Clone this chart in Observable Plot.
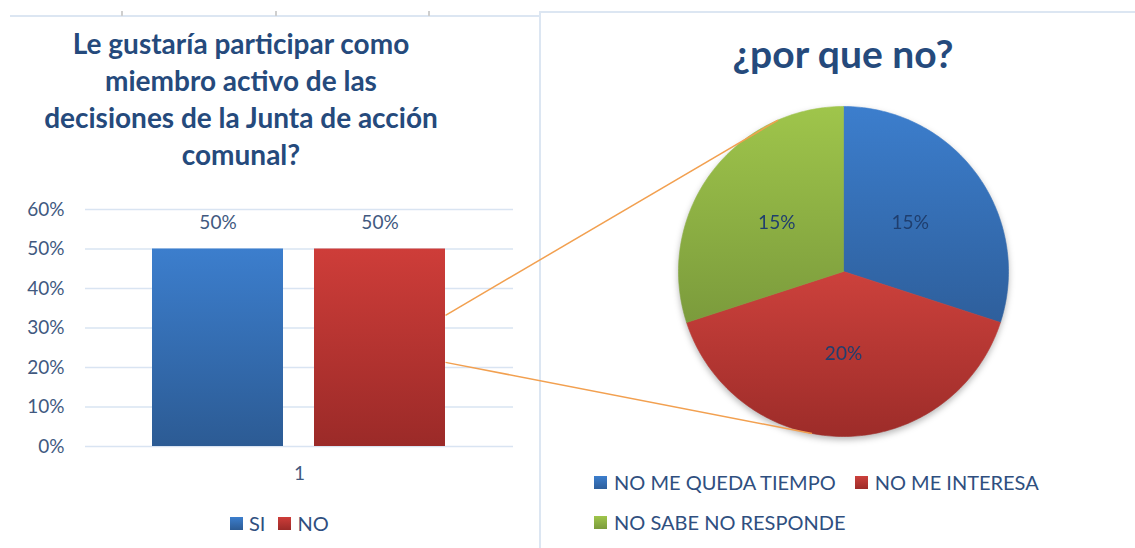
<!DOCTYPE html>
<html><head><meta charset="utf-8">
<script src="https://cdn.jsdelivr.net/npm/d3@7"></script>
<script src="https://cdn.jsdelivr.net/npm/@observablehq/plot@0.6"></script>
<style>
html,body{margin:0;padding:0;background:#fff;}
#root{position:relative;width:1135px;height:548px;overflow:hidden;font-family:Lato,sans-serif;background:#fff;}
.abs{position:absolute;}
.leg{display:flex;flex-wrap:wrap;align-items:center;font-size:20px;line-height:20px;color:#2f4f7f;}
.leg .item{display:flex;align-items:center;}
.leg .sw{width:13px;height:13px;display:inline-block;}
</style></head><body><div id="root"></div>
<script>
// ---------- data ----------
const barGroup = ["1"];
const barSeries = ["SI", "NO"];
const barValues = [0.5, 0.5];
const yTicks = [0, 0.1, 0.2, 0.3, 0.4, 0.5, 0.6];
const barTitle = ["Le gustaría participar como", "miembro activo de las", "decisiones de la Junta de acción", "comunal?"];
const pieTitle = "¿por que no?";
const pieLabels = ["NO ME QUEDA TIEMPO", "NO ME INTERESA", "NO SABE NO RESPONDE"];
const pieValues = [0.15, 0.20, 0.15];
const connectorBarValues = [0.332, 0.213];
const connectorPieAngles = [336.6, 191];

// ---------- styling ----------
const barGrad = [["gSI", "#3c7ecd", "#2c5b94"], ["gNO", "#ce3d39", "#9b2a28"]];
const pieGrad = [["pBlue", "#3c7ecd", "#2e5f9c"], ["pRed", "#cc413c", "#9d2c29"], ["pGreen", "#9fc54b", "#7b9b3c"]];
const textColor = "#41597f";
const BAR = {left: 0, top: 190, width: 540, height: 300};
const PIE = {left: 668, top: 96, size: 350};

const root = document.getElementById("root");
const pct = d3.format(".0%");

function gradientDefs(list) {
  return () => {
    const ns = "http://www.w3.org/2000/svg";
    const defs = document.createElementNS(ns, "defs");
    for (const [id, top, bottom] of list) {
      const lg = document.createElementNS(ns, "linearGradient");
      lg.setAttribute("id", id);
      lg.setAttribute("x1", "0"); lg.setAttribute("y1", "0");
      lg.setAttribute("x2", "0"); lg.setAttribute("y2", "1");
      for (const [off, col] of [[0, top], [1, bottom]]) {
        const s = document.createElementNS(ns, "stop");
        s.setAttribute("offset", off);
        s.setAttribute("stop-color", col);
        lg.appendChild(s);
      }
      defs.appendChild(lg);
    }
    return defs;
  };
}
function place(el, left, top) {
  el.style.position = "absolute";
  el.style.left = left + "px";
  el.style.top = top + "px";
  root.appendChild(el);
  return el;
}
function div(cls, css, html) {
  const d = document.createElement("div");
  if (cls) d.className = cls;
  Object.assign(d.style, css || {});
  if (html != null) d.innerHTML = html;
  root.appendChild(d);
  return d;
}

// ---------- decorative frame lines ----------
div("abs", {left: "10px", top: "15px", width: "530px", height: "2px", background: "#dce6f2"});
for (const x of [121, 275, 428]) div("abs", {left: x + "px", top: "11px", width: "2px", height: "5px", background: "#cfcfcf"});
div("abs", {left: "539px", top: "11px", width: "600px", height: "540px", borderLeft: "2px solid #dce6f2", borderTop: "2px solid #dce6f2", boxSizing: "border-box"});

// ---------- bar chart ----------
const barData = barSeries.map((s, i) => ({group: barGroup[0], series: s, value: barValues[i]}));
const barChart = Plot.plot({
  width: BAR.width, height: BAR.height,
  marginLeft: 85, marginRight: 27, marginTop: 19, marginBottom: 44,
  style: {fontFamily: "Lato, sans-serif", fontSize: "19px", color: textColor, background: "transparent", overflow: "visible"},
  x: {domain: barSeries, paddingInner: 0.19, paddingOuter: 0.411, axis: null},
  y: {domain: [0, 0.6], axis: null},
  color: {domain: barSeries, range: barGrad.map(g => `url(#${g[0]})`)},
  marks: [
    gradientDefs(barGrad),
    Plot.gridY(yTicks, {stroke: "#d9e4f2", strokeOpacity: 1, strokeWidth: 1.3}),
    Plot.axisY(yTicks, {tickFormat: pct, tickSize: 0, tickPadding: 21, fill: textColor, label: null}),
    Plot.barY(barData, {x: "series", y: "value", fill: "series"}),
    Plot.text(barData, {x: "series", y: "value", text: d => pct(d.value), dy: -26, fill: textColor}),
    Plot.text(barGroup, {text: d => d, frameAnchor: "bottom", lineAnchor: "middle", dy: 27, fill: textColor})
  ]
});
place(barChart, BAR.left, BAR.top);

// bar title
div("abs", {left: "6px", top: "25px", width: "470px", textAlign: "center", fontSize: "28px", fontWeight: "700", lineHeight: "37px", color: "#254a7c", whiteSpace: "nowrap"},
  barTitle.join("<br>"));

// bar legend
const barLeg = div("leg abs", {left: "230px", top: "513px"});
barSeries.forEach((s, i) => {
  const it = document.createElement("div");
  it.className = "item";
  if (i > 0) it.style.marginLeft = "13px";
  it.innerHTML = `<span class="sw" style="background:linear-gradient(${barGrad[i][1]},${barGrad[i][2]})"></span><span style="margin-left:6px">${s}</span>`;
  barLeg.appendChild(it);
});

// ---------- pie chart ----------
const arcs = d3.pie().sort(null).value(d => d)(pieValues);
const wedgePts = [];
arcs.forEach((a, i) => {
  const name = pieLabels[i];
  wedgePts.push({slice: name, x: 0, y: 0});
  const n = Math.max(2, Math.ceil((a.endAngle - a.startAngle) / (Math.PI / 180)));
  for (let k = 0; k <= n; k++) {
    const t = a.startAngle + (a.endAngle - a.startAngle) * k / n;
    wedgePts.push({slice: name, x: Math.sin(t), y: Math.cos(t)});
  }
  wedgePts.push({slice: name, x: 0, y: 0});
});
const pieLabelPts = arcs.map((a, i) => {
  const m = (a.startAngle + a.endAngle) / 2;
  return {x: 0.5 * Math.sin(m), y: 0.5 * Math.cos(m), text: pct(pieValues[i])};
});
const pieChart = Plot.plot({
  width: PIE.size, height: PIE.size, margin: 10,
  style: {fontFamily: "Lato, sans-serif", fontSize: "19px", background: "transparent", overflow: "visible"},
  x: {domain: [-1, 1], axis: null},
  y: {domain: [-1, 1], axis: null},
  color: {domain: pieLabels, range: pieGrad.map(g => `url(#${g[0]})`)},
  marks: [
    gradientDefs(pieGrad),
    Plot.line(wedgePts, {x: "x", y: "y", z: "slice", fill: "slice", stroke: "slice", strokeWidth: 0.6}),
    Plot.text(pieLabelPts, {x: "x", y: "y", text: "text", fill: "#1f3e6e"})
  ]
});
pieChart.style.filter = "drop-shadow(0px 3px 3px rgba(0,0,0,0.28))";
place(pieChart, PIE.left, PIE.top);

// pie title
div("abs", {left: "643px", top: "33px", width: "400px", textAlign: "center", fontSize: "39px", fontWeight: "700", lineHeight: "40px", color: "#254a7c"}, pieTitle);

// pie legend
const pieLeg = div("leg abs", {left: "594px", top: "472px", width: "445px", rowGap: "20px"});
pieLabels.forEach((s, i) => {
  const it = document.createElement("div");
  it.className = "item";
  if (i === 1) it.style.marginLeft = "19px";
  it.innerHTML = `<span class="sw" style="background:linear-gradient(${pieGrad[i][1]},${pieGrad[i][2]})"></span><span style="margin-left:7px">${s}</span>`;
  pieLeg.appendChild(it);
});

// ---------- connector lines (bar of pie) ----------
const bx = barChart.scale("x"), by = barChart.scale("y");
const px = pieChart.scale("x"), py = pieChart.scale("y");
const links = connectorBarValues.map((v, i) => {
  const t = connectorPieAngles[i] * Math.PI / 180;
  return {
    x1: BAR.left + bx.apply("NO") + bx.bandwidth,
    y1: BAR.top + by.apply(v),
    x2: PIE.left + px.apply(Math.sin(t)),
    y2: PIE.top + py.apply(Math.cos(t))
  };
});
const overlay = Plot.plot({
  width: 1135, height: 548, margin: 0,
  style: {background: "transparent"},
  x: {type: "identity", axis: null},
  y: {type: "identity", axis: null},
  marks: [Plot.link(links, {x1: "x1", y1: "y1", x2: "x2", y2: "y2", stroke: "#f2a050", strokeWidth: 1.5})]
});
overlay.style.pointerEvents = "none";
place(overlay, 0, 0);
</script></body></html>
